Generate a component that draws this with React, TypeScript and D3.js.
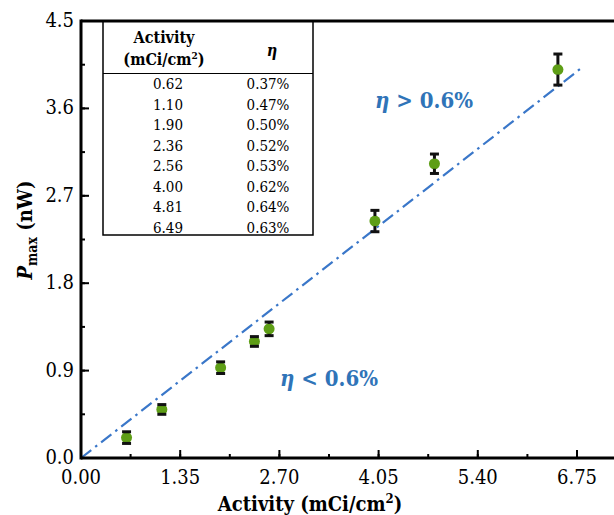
import React from "react";
import * as d3 from "d3";

const activity = [0.62, 1.1, 1.9, 2.36, 2.56, 4.0, 4.81, 6.49];
const pmax = [0.21, 0.5, 0.93, 1.2, 1.33, 2.44, 3.03, 4.0];
const pErr = [0.06, 0.05, 0.06, 0.05, 0.07, 0.11, 0.1, 0.16];
const tableActivity = ["0.62", "1.10", "1.90", "2.36", "2.56", "4.00", "4.81", "6.49"];
const tableEta = ["0.37%", "0.47%", "0.50%", "0.52%", "0.53%", "0.62%", "0.64%", "0.63%"];
const fitX = [0, 6.8];
const fitY = [0, 4.01];
const xTicks = [0, 1.35, 2.7, 4.05, 5.4, 6.75];
const yTicks = [0, 0.9, 1.8, 2.7, 3.6, 4.5];

const W = 614;
const H = 515;
const FONT = "'DejaVu Serif Condensed', 'DejaVu Serif', serif";
const GREEN = "#5e9e16";
const BLUE = "#3a77c9";
const TEXTBLUE = "#2f74b8";

export default function App() {
  const x = d3.scaleLinear().domain([0, 6.75]).range([81, 577]);
  const y = d3.scaleLinear().domain([0, 4.5]).range([458, 21]);
  const x0 = x(0);
  const y0 = y(0);
  const yTop = y(4.5);
  const xMinor = d3.range(0, 7.3, 0.675).filter((v) => x(v) < W);
  const yMinor = d3.range(0, 4.5001, 0.45);
  const line = d3
    .line<number>()
    .x((_, i) => x(fitX[i]))
    .y((d) => y(d));

  const tblL = 103;
  const tblR = 313;
  const tblT = yTop;
  const tblB = 235;
  const col1 = 168;
  const col2 = 268;
  const ts: React.CSSProperties = { fontFamily: FONT, fontStretch: "condensed" };

  return (
    <svg
      width={W}
      height={H}
      style={{ position: "absolute", left: 0, top: 0, background: "#fff", fontFamily: FONT }}
    >
      <rect x={0} y={0} width={W} height={H} fill="#fff" />
      {/* table */}
      <rect x={tblL} y={tblT} width={tblR - tblL} height={tblB - tblT} fill="none" stroke="#000" strokeWidth={1.5} />
      <line x1={tblL} x2={tblR} y1={73.5} y2={73.5} stroke="#000" strokeWidth={1.2} />
      <text style={ts} x={col1 - 4} y={43} fontSize={16} fontWeight="bold" textAnchor="middle">Activity</text>
      <text style={ts} x={col1 - 4} y={65} fontSize={16} fontWeight="bold" textAnchor="middle">
        (mCi/cm<tspan fontSize={10} dy={-6}>2</tspan><tspan dy={6}>)</tspan>
      </text>
      <text style={ts} x={col2 + 4} y={56} fontSize={16} fontWeight="bold" fontStyle="italic" textAnchor="middle">η</text>
      {tableActivity.map((a, i) => (
        <g key={a}>
          <text style={ts} x={col1} y={89 + i * 20.5} fontSize={15} textAnchor="middle">{a}</text>
          <text style={ts} x={col2} y={89 + i * 20.5} fontSize={15} textAnchor="middle">{tableEta[i]}</text>
        </g>
      ))}

      {/* fit line */}
      <path
        d={line(fitY) || ""}
        fill="none"
        stroke={BLUE}
        strokeWidth={2.2}
        strokeDasharray="13,5,2.5,5"
      />

      {/* points */}
      {activity.map((a, i) => {
        const cx = x(a);
        const cy = y(pmax[i]);
        const t = y(pmax[i] + pErr[i]);
        const b = y(pmax[i] - pErr[i]);
        return (
          <g key={i}>
            <circle cx={cx} cy={cy} r={5.5} fill={GREEN} />
            <line x1={cx - 4.5} x2={cx + 4.5} y1={t} y2={t} stroke="#111" strokeWidth={3} />
            <line x1={cx - 4.5} x2={cx + 4.5} y1={b} y2={b} stroke="#111" strokeWidth={3} />
            {t < cy - 5 && <line x1={cx} x2={cx} y1={t} y2={cy - 5} stroke="#111" strokeWidth={3} />}
            {b > cy + 5 && <line x1={cx} x2={cx} y1={cy + 5} y2={b} stroke="#111" strokeWidth={3} />}
          </g>
        );
      })}

      {/* annotations */}
      <text style={ts} x={375} y={108} fontSize={22} fontWeight="bold" fill={TEXTBLUE}>
        <tspan fontStyle="italic">η</tspan> &gt; 0.6%
      </text>
      <text style={ts} x={280} y={386} fontSize={22} fontWeight="bold" fill={TEXTBLUE}>
        <tspan fontStyle="italic">η</tspan> &lt; 0.6%
      </text>

      {/* frame */}
      <line x1={x0} x2={W} y1={y0} y2={y0} stroke="#000" strokeWidth={3} />
      <line x1={x0} x2={W} y1={yTop} y2={yTop} stroke="#000" strokeWidth={3} />
      <line x1={x0} x2={x0} y1={yTop - 1.5} y2={y0 + 1.5} stroke="#000" strokeWidth={3} />

      {/* x ticks */}
      {xMinor.map((v) => (
        <line key={"xm" + v} x1={x(v)} x2={x(v)} y1={y0} y2={y0 - 4} stroke="#000" strokeWidth={2} />
      ))}
      {xTicks.map((v) => (
        <g key={"x" + v}>
          <line x1={x(v)} x2={x(v)} y1={y0} y2={y0 - 8} stroke="#000" strokeWidth={2} />
          <text style={ts} x={x(v)} y={484} fontSize={20} textAnchor="middle">{v.toFixed(2)}</text>
        </g>
      ))}
      {/* y ticks */}
      {yMinor.map((v) => (
        <line key={"ym" + v} x1={x0} x2={x0 + 4} y1={y(v)} y2={y(v)} stroke="#000" strokeWidth={2} />
      ))}
      {yTicks.map((v) => (
        <g key={"y" + v}>
          <line x1={x0} x2={x0 + 8} y1={y(v)} y2={y(v)} stroke="#000" strokeWidth={2} />
          <text style={ts} x={74} y={y(v) + 6} fontSize={20} textAnchor="end">{v.toFixed(1)}</text>
        </g>
      ))}

      {/* axis titles */}
      <text style={ts} x={310} y={511} fontSize={20} fontWeight="bold" textAnchor="middle">
        Activity (mCi/cm<tspan fontSize={13} dy={-8}>2</tspan><tspan dy={8}>)</tspan>
      </text>
      <text style={ts} transform="translate(32,230) rotate(-90)" fontSize={20} fontWeight="bold" textAnchor="middle">
        <tspan fontStyle="italic">P</tspan>
        <tspan fontSize={14} dy={5}>max</tspan>
        <tspan dy={-5}> (nW)</tspan>
      </text>
    </svg>
  );
}
